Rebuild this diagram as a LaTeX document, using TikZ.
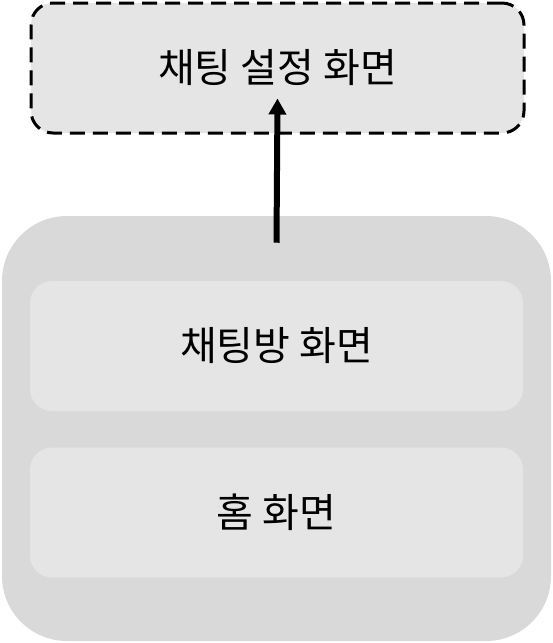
\documentclass[tikz,border=0pt]{standalone}
\usepackage{fontspec}
\setmainfont{Noto Sans CJK KR}
\usetikzlibrary{positioning, calc, arrows.meta}

\begin{document}
\begin{tikzpicture}[
    x=0.75pt, y=-0.75pt,
    node distance=27pt,
    screen/.style={rounded corners=16.5pt, minimum width=369.75pt, minimum height=97.5pt, align=center, fill=black!10, font=\fontsize{30}{34}\selectfont, inner sep=0pt},
    popup/.style={screen, draw, line width=2.25pt, dash pattern=on 11.25pt off 6pt},
    group/.style={rounded corners=48.75pt, minimum width=411.75pt, minimum height=318.75pt, fill=black!15, inner sep=0pt},
    arr/.style={-{Triangle[width=12.75pt, length=12pt]}, line width=4.5pt},
]
\useasboundingbox (0,0) rectangle (553,643);

% Settings screen (opened on top)
\node[popup] (setting) at (277.5,68) {채팅 설정 화면};

% Screen stack
\node[group] (stack) at (276.5,428.5) {};
\node[screen] (chat) at (276.5,346) {채팅방 화면};
\node[screen, below=of chat] (home) {홈 화면};

% Navigation
\coordinate (from) at ($(stack.north)+(0,27)$);
\coordinate (to) at ($(setting.south)+(0,-36)$);
\draw[arr] (from) -- (to);

\end{tikzpicture}
\end{document}
